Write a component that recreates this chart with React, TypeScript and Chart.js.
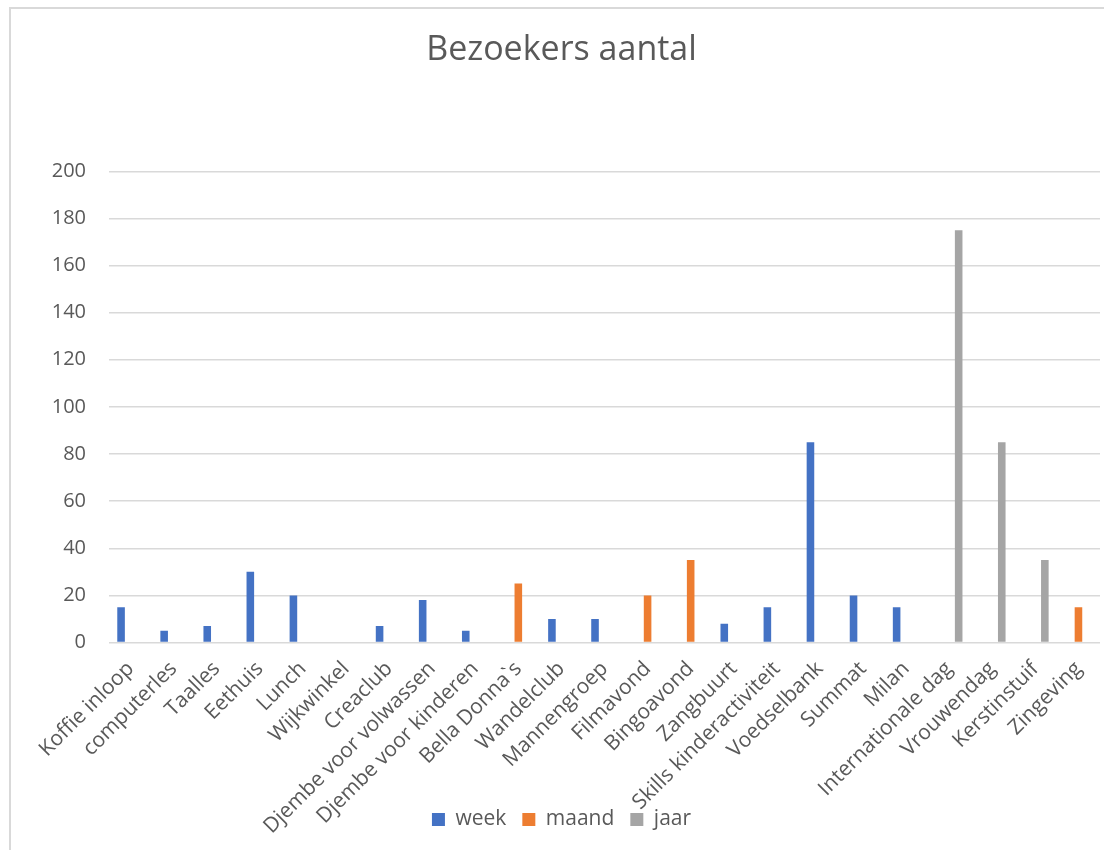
import React, { useEffect, useRef } from "react";
import { Chart, registerables } from "chart.js";

Chart.register(...registerables);

const categories = [
  "Koffie inloop",
  "computerles",
  "Taalles",
  "Eethuis",
  "Lunch",
  "Wijkwinkel",
  "Creaclub",
  "Djembe voor volwassen",
  "Djembe voor kinderen",
  "Bella Donna`s",
  "Wandelclub",
  "Mannengroep",
  "Filmavond",
  "Bingoavond",
  "Zangbuurt",
  "Skills kinderactiviteit",
  "Voedselbank",
  "Summat",
  "Milan",
  "Internationale dag",
  "Vrouwendag",
  "Kerstinstuif",
  "Zingeving",
];

const weekValues = [15, 5, 7, 30, 20, 0, 7, 18, 5, null, 10, 10, null, null, 8, 15, 85, 20, 15, null, null, null, null];
const maandValues = [null, null, null, null, null, null, null, null, null, 25, null, null, 20, 35, null, null, null, null, null, null, null, null, 15];
const jaarValues = [null, null, null, null, null, null, null, null, null, null, null, null, null, null, null, null, null, null, null, 175, 85, 35, null];

const seriesNames = ["week", "maand", "jaar"];
const seriesColors = ["#4472C4", "#ED7D31", "#A5A5A5"];
const yTicks = [0, 20, 40, 60, 80, 100, 120, 140, 160, 180, 200];

const FONT = "'Open Sans', 'Liberation Sans', sans-serif";
const TEXT = "#595959";

export default function App() {
  const ref = useRef<HTMLCanvasElement | null>(null);

  useEffect(() => {
    if (!ref.current) return;
    const chart = new Chart(ref.current, {
      type: "bar",
      data: {
        labels: categories,
        datasets: [weekValues, maandValues, jaarValues].map((d, i) => ({
          label: seriesNames[i],
          data: d,
          backgroundColor: seriesColors[i],
          borderWidth: 0,
          categoryPercentage: 0.66,
          barPercentage: 0.8,
        })),
      },
      options: {
        responsive: false,
        animation: false,
        layout: { padding: { left: 12, right: 4, top: 0, bottom: 10 } },
        plugins: {
          tooltip: { enabled: false },
          title: {
            display: true,
            text: "Bezoekers aantal",
            color: TEXT,
            font: { family: FONT, size: 34, weight: "normal" },
            padding: { top: 21, bottom: 100.5 },
          },
          legend: {
            position: "bottom",
            labels: {
              boxWidth: 13,
              boxHeight: 13,
              color: TEXT,
              padding: 16,
              font: { family: FONT, size: 21 },
            },
          },
        },
        scales: {
          x: {
            grid: { display: false },
            border: { display: false },
            ticks: {
              autoSkip: false,
              maxRotation: 45,
              minRotation: 45,
              padding: 6,
              color: TEXT,
              font: { family: FONT, size: 21 },
            },
            afterFit: (scale: any) => {
              scale.height = 150.5;
              scale._computeLabelArea = () => undefined;
            },
          },
          y: {
            min: 0,
            max: 200,
            afterBuildTicks: (scale: any) => {
              scale.ticks = yTicks.map((v) => ({ value: v }));
            },
            grid: { color: "#D9D9D9", lineWidth: 1.5, drawTicks: false },
            border: { display: false },
            ticks: {
              padding: 23,
              color: TEXT,
              font: { family: FONT, size: 20 },
            },
            afterFit: (scale: any) => {
              scale.width = 86;
            },
          },
        },
      },
    });
    return () => chart.destroy();
  }, []);

  return (
    <div
      style={{
        position: "fixed",
        left: 9,
        top: 7,
        width: 1095,
        height: 843,
        boxSizing: "border-box",
        borderTop: "2px solid #D9D9D9",
        borderLeft: "2px solid #D9D9D9",
        background: "#fff",
        overflow: "hidden",
      }}
    >
      <canvas ref={ref} width={1093} height={841} style={{ display: "block" }} />
    </div>
  );
}
